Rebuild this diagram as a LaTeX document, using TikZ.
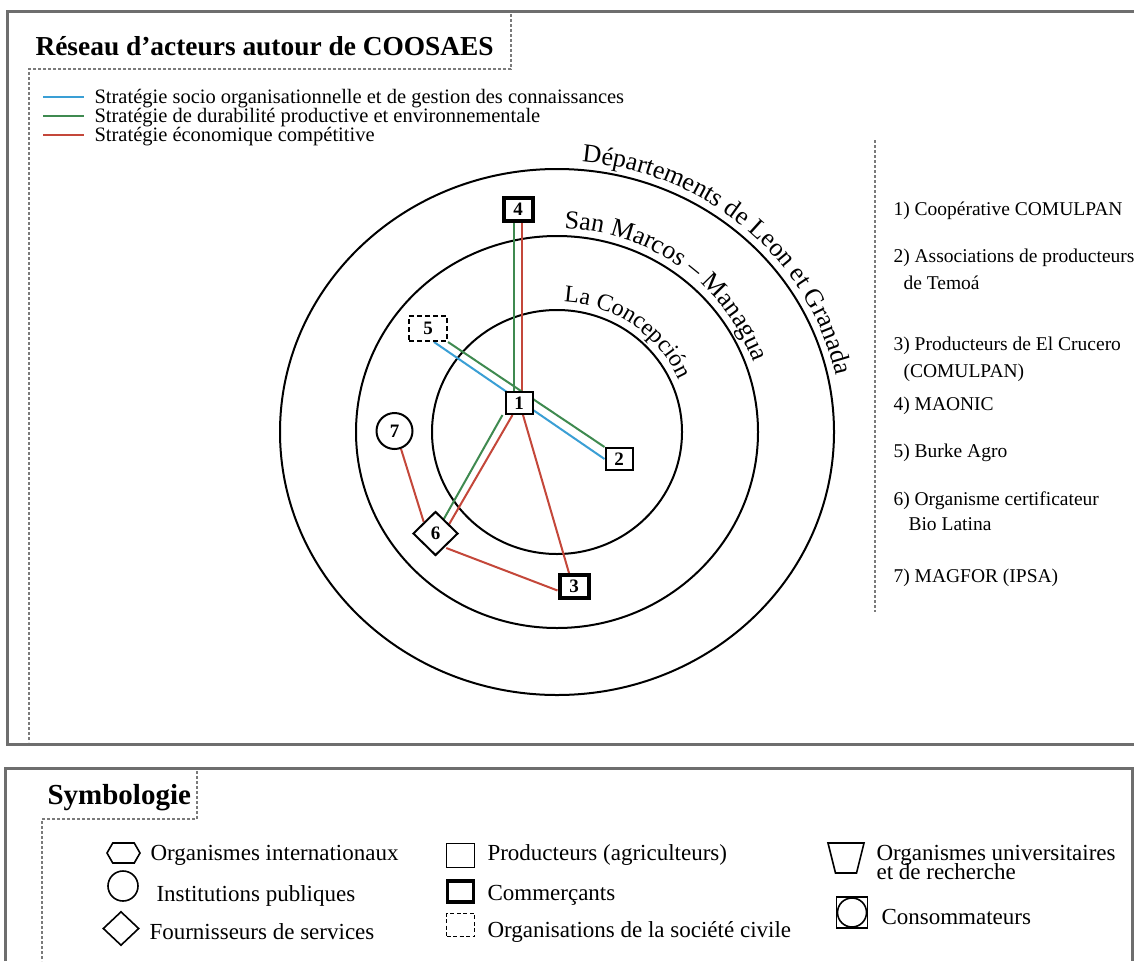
\documentclass[tikz,border=0pt]{standalone}
\usepackage{fontspec}
\setmainfont{Liberation Serif}
\usetikzlibrary{shapes.geometric,decorations.text,backgrounds,calc}
\definecolor{sblue}{HTML}{3A9FD5}
\definecolor{sgreen}{HTML}{3F8A50}
\definecolor{sred}{HTML}{C4473A}
\definecolor{framegray}{HTML}{6E6E6E}
\definecolor{dashgray}{HTML}{7A7A7A}
\begin{document}
\begin{tikzpicture}[x=1pt,y=1pt,
  frame/.style={draw=framegray, line width=3pt},
  sep/.style={draw=dashgray, line width=2.2pt, dash pattern=on 3pt off 2pt},
  zone/.style={draw=black, line width=2pt},
  link/.style={line width=2pt},
  num/.style={font=\fontsize{19}{19}\selectfont\bfseries},
  actor/.style={draw=black, fill=white, line width=2pt, num, inner sep=0pt, minimum width=27pt, minimum height=22pt},
  trader/.style={actor, line width=4pt, minimum width=29pt, minimum height=23pt},
  civil/.style={actor, dash pattern=on 5pt off 3pt, minimum width=38pt, minimum height=25pt},
  small/.style={font=\fontsize{20.5}{20.5}\selectfont},
  lst/.style={font=\fontsize{19.5}{19.5}\selectfont, anchor=base west},
  sym/.style={font=\fontsize{23}{23}\selectfont, anchor=base west},
  symb/.style={draw=black, line width=1.6pt},
  head/.style={font=\bfseries, anchor=base west}
]
\useasboundingbox (0,0) rectangle (1134,-961);

% frames
\draw[frame] (1134,-11.5) -- (7.5,-11.5) -- (7.5,-744.5) -- (1134,-744.5);
\draw[frame] (5.5,-961) -- (5.5,-768) -- (1132.5,-768) -- (1132.5,-961);

% dashed separators
\draw[sep] (511,-14) -- (511,-69) -- (29,-69) -- (29,-742);
\draw[sep] (197,-771) -- (197,-819) -- (42,-819) -- (42,-961);
\draw[sep] (875,-140) -- (875,-612);

% titles
\node[head, font=\fontsize{27.4}{27.4}\selectfont\bfseries] (title) at (32,-55) {Réseau d’acteurs autour de COOSAES};
\node[head, font=\fontsize{29}{29}\selectfont\bfseries] (symtitle) at (44,-804) {Symbologie};

% strategy legend
\coordinate (la1) at (43,-97);  \coordinate (lb1) at (84,-97);
\coordinate (la2) at (43,-116); \coordinate (lb2) at (84,-116);
\coordinate (la3) at (43,-135); \coordinate (lb3) at (84,-135);
\draw[link, sblue] (la1) -- (lb1);
\draw[link, sgreen] (la2) -- (lb2);
\draw[link, sred] (la3) -- (lb3);
\node[small, anchor=base west] (t1) at (91,-103) {Stratégie socio organisationnelle et de gestion des connaissances};
\node[small, anchor=base west] (t2) at (91,-122) {Stratégie de durabilité productive et environnementale};
\node[small, anchor=base west] (t3) at (91,-141) {Stratégie économique compétitive};

% zones
\coordinate (C) at (557,-432);

% actors
\node[trader] (n4) at (518,-209) {4};
\node[actor] (n1) at (519,-403) {1};
\node[civil] (n5) at (428,-328.5) {5};
\node[actor] (n2) at (619,-459) {2};
\node[trader] (n3) at (574,-586.5) {3};
\node[diamond, draw=black, fill=white, line width=2pt, minimum width=45pt, minimum height=44pt, inner sep=0pt, num] (n6) at (435.5,-533.5) {6};
\node[circle, draw=black, fill=white, line width=2pt, minimum size=36pt, inner sep=0pt, num] (n7) at (394.5,-431) {7};

\begin{scope}[on background layer]
\fill[white] (0,0) rectangle (1134,-961);
\draw[zone] (C) ellipse [x radius=277, y radius=263];
\draw[zone] (C) ellipse [x radius=201, y radius=196];
\draw[zone] (C) ellipse [x radius=125, y radius=122];
% links
\draw[link, sgreen] ([xshift=-4pt]n4.south) -- ([xshift=-4pt]n4.south |- n1.north);
\draw[link, sred] ([xshift=4pt]n4.south) -- ([xshift=4pt]n4.south |- n1.north);
\draw[link, sblue] ([xshift=6pt]n5.south) -- (n2.west);
\draw[link, sgreen] (n5.south east) -- (n2.north west);
\draw[link, sgreen] ([xshift=-2pt]n1.south west) -- ([shift={(-4pt,2pt)}]n6.north east);
\draw[link, sred] ([xshift=8pt]n1.south west) -- ([shift={(2pt,-2pt)}]n6.north east);
\draw[link, sred] ([xshift=4pt]n1.south) -- ([xshift=-5pt]n3.north);
\draw[link, sred] ([shift={(-1pt,-3pt)}]n6.south east) -- ([yshift=-4pt]n3.west);
\draw[link, sred] (n7.-70) -- (n6.north west);
\end{scope}

% zone labels
\path[decorate, decoration={text along path, text align=left,
  text={|\fontsize{26}{26}\selectfont|Départements de Leon et Granada}}]
  ($(C)+(85:285 and 271)$) arc[start angle=85, end angle=-40, x radius=285, y radius=271];
\path[decorate, decoration={text along path, text align=left,
  text={|\fontsize{26}{26}\selectfont|San Marcos – Managua}}]
  ($(C)+(88:209 and 204)$) arc[start angle=88, end angle=-40, x radius=209, y radius=204];
\path[decorate, decoration={text along path, text align=left,
  text={|\fontsize{24}{24}\selectfont|La Concepción}}]
  ($(C)+(87:133 and 130)$) arc[start angle=87, end angle=-40, x radius=133, y radius=130];

% actor list
\node[lst] (a1) at (890,-215) {1) Coopérative COMULPAN};
\node[lst] (a2) at (890,-262) {2) Associations de producteurs};
\node[lst] (a2b) at (900,-289) {de Temoá};
\node[lst] (a3) at (890,-350) {3) Producteurs de El Crucero};
\node[lst] (a3b) at (900,-377) {(COMULPAN)};
\node[lst] (a4) at (890,-410) {4) MAONIC};
\node[lst] (a5) at (890,-457) {5) Burke Agro};
\node[lst] (a6) at (890,-505) {6) Organisme certificateur};
\node[lst] (a6b) at (905,-530) {Bio Latina};
\node[lst] (a7) at (890,-582) {7) MAGFOR (IPSA)};

% symbology
\coordinate (hex) at (123.5,-853);
\draw[symb] (hex) ++(-16.5,0) -- ++(5.75,10) -- ++(21.5,0) -- ++(5.75,-10) -- ++(-5.75,-10) -- ++(-21.5,0) -- cycle;
\node[sym] (s1) at (147,-860) {Organismes internationaux};
\node[circle, symb, minimum size=30pt, inner sep=0pt] (c1) at (123,-886) {};
\node[sym] (s2) at (153,-901) {Institutions publiques};
\node[diamond, symb, minimum width=36pt, minimum height=34pt, inner sep=0pt] (d1) at (121,-928.5) {};
\node[sym] (s3) at (146,-939) {Fournisseurs de services};

\node[rectangle, symb, minimum width=28pt, minimum height=24pt, inner sep=0pt] (b1) at (460.5,-855.5) {};
\node[sym] (s4) at (484,-860) {Producteurs (agriculteurs)};
\node[rectangle, symb, line width=3.4pt, minimum width=26pt, minimum height=21pt, inner sep=0pt] (b2) at (460.5,-891.5) {};
\node[sym] (s5) at (484,-900) {Commerçants};
\node[rectangle, symb, dash pattern=on 4pt off 2.5pt, minimum width=28pt, minimum height=23pt, inner sep=0pt] (b3) at (460.5,-925) {};
\node[sym] (s6) at (484,-937) {Organisations de la société civile};

\coordinate (trap) at (846,-858);
\draw[symb] (trap) ++(-18,15) -- ++(36,0) -- ++(-7.5,-30) -- ++(-21,0) -- cycle;
\node[sym] (s7) at (873,-860) {Organismes universitaires};
\node[sym] (s7b) at (873,-879) {et de recherche};
\node[rectangle, symb, minimum size=31pt, inner sep=0pt] (cons) at (852,-912.5) {};
\draw[symb] (cons.center) circle [radius=14.5];
\node[sym] (s8) at (878,-924) {Consommateurs};
\end{tikzpicture}
\end{document}
